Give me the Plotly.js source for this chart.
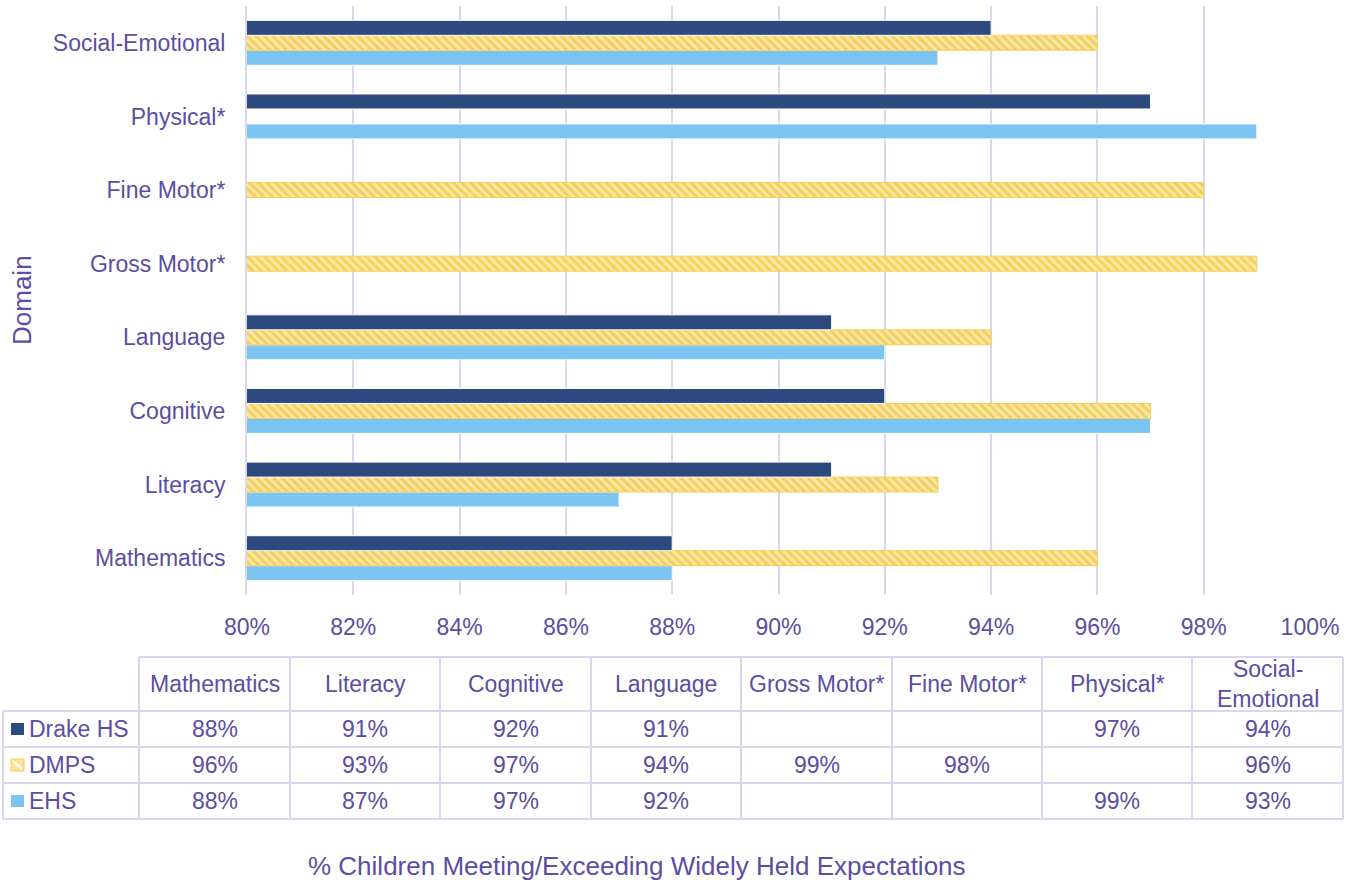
<!DOCTYPE html>
<html><head><meta charset="utf-8">
<script src="https://cdn.plot.ly/plotly-3.0.1.min.js"></script>
<style>html,body{margin:0;padding:0;background:#fff}#chart{width:1357px;height:880px}</style>
</head><body><div id="chart"></div>
<script>
// ---- data ----
const categories = ['Mathematics','Literacy','Cognitive','Language','Gross Motor*','Fine Motor*','Physical*','Social-Emotional'];
const tableHeaders = ['Mathematics','Literacy','Cognitive','Language','Gross Motor*','Fine Motor*','Physical*','Social-<br>Emotional'];
const seriesNames = ['Drake HS','DMPS','EHS'];
const drakeHS = [88,91,92,91,null,null,97,94];
const dmps    = [96,93,97,94,99,98,null,96];
const ehs     = [88,87,97,92,null,null,99,93];
const xTickVals = [80,82,84,86,88,90,92,94,96,98,100];
const xTickText = xTickVals.map(v => v + '%');

// ---- style ----
const TXT = '#5B4EA3';
const GRID = '#DAD6EC';
const C_DRAKE = '#2D4A7E';
const C_DMPS = '#F4CF58';
const C_EHS = '#7CC4F1';
const FONT = 'Liberation Sans, Arial, sans-serif';

// layout geometry (pixels)
const L = 247, R = 1310, T = 6, B = 595, W = 1357, H = 880;
const px = x => (x - L) / (R - L);
const py = y => (B - y) / (B - T);

const traces = [
  {type:'bar', orientation:'h', name:'EHS', y:categories, x:ehs,
   marker:{color:C_EHS, line:{color:'#ffffff', width:1}}, hoverinfo:'x+y'},
  {type:'bar', orientation:'h', name:'DMPS', y:categories, x:dmps,
   marker:{color:C_DMPS, line:{color:C_DMPS, width:1},
           pattern:{shape:'\\', fgcolor:'#ffffff', bgcolor:C_DMPS, size:6, solidity:0.5, fillmode:'overlay'}}, hoverinfo:'x+y'},
  {type:'bar', orientation:'h', name:'Drake HS', y:categories, x:drakeHS,
   marker:{color:C_DRAKE, line:{color:'#ffffff', width:1}}, hoverinfo:'x+y'}
];

// ---- table (shapes + annotations) ----
const colEdges = [3,139,290,440,591,741,892,1042,1192,1343];
const rowEdges = [657,711,747,783,819];
const shapes = [];
const lineStyle = {color:GRID, width:2};
shapes.push({type:'line', xref:'paper', yref:'paper', x0:px(colEdges[1]), x1:px(colEdges[9]), y0:py(rowEdges[0]), y1:py(rowEdges[0]), line:lineStyle});
for (let r = 1; r < rowEdges.length; r++) {
  shapes.push({type:'line', xref:'paper', yref:'paper', x0:px(colEdges[0]), x1:px(colEdges[9]), y0:py(rowEdges[r]), y1:py(rowEdges[r]), line:lineStyle});
}
shapes.push({type:'line', xref:'paper', yref:'paper', x0:px(colEdges[0]), x1:px(colEdges[0]), y0:py(rowEdges[1]), y1:py(rowEdges[4]), line:lineStyle});
for (let c = 1; c < colEdges.length; c++) {
  shapes.push({type:'line', xref:'paper', yref:'paper', x0:px(colEdges[c]), x1:px(colEdges[c]), y0:py(rowEdges[0]), y1:py(rowEdges[4]), line:lineStyle});
}

const annotations = [];
const tFont = {family:FONT, size:23, color:TXT};
tableHeaders.forEach((h, i) => {
  const cx = (colEdges[i+1] + colEdges[i+2]) / 2;
  annotations.push({xref:'paper', yref:'paper', x:px(cx), y:py((rowEdges[0]+rowEdges[1])/2),
    text:h, showarrow:false, xanchor:'center', yanchor:'middle', font:tFont});
});
const seriesData = [drakeHS, dmps, ehs];
const swatchColors = [C_DRAKE, C_DMPS, C_EHS];
seriesData.forEach((vals, r) => {
  const cy = (rowEdges[r+1] + rowEdges[r+2]) / 2;
  annotations.push({xref:'paper', yref:'paper', x:px(27), y:py(cy), text:seriesNames[r],
    showarrow:false, xanchor:'left', yanchor:'middle', font:tFont});
  if (r === 1) {
    shapes.push({type:'rect', xref:'paper', yref:'paper', x0:px(11), x1:px(24), y0:py(cy-6), y1:py(cy+6),
      fillcolor:'#FBE49A', line:{color:C_DMPS, width:1}});
    shapes.push({type:'line', xref:'paper', yref:'paper', x0:px(13), x1:px(22), y0:py(cy-4), y1:py(cy+4),
      line:{color:'#ffffff', width:2}});
  } else {
    shapes.push({type:'rect', xref:'paper', yref:'paper', x0:px(11), x1:px(24), y0:py(cy-6), y1:py(cy+6),
      fillcolor:swatchColors[r], line:{width:0}});
  }
  vals.forEach((v, i) => {
    if (v === null) return;
    const cx = (colEdges[i+1] + colEdges[i+2]) / 2;
    annotations.push({xref:'paper', yref:'paper', x:px(cx), y:py(cy), text:v + '%',
      showarrow:false, xanchor:'center', yanchor:'middle', font:tFont});
  });
});
// x-axis title (positioned under the table)
annotations.push({xref:'paper', yref:'paper', x:px(637), y:py(866), xanchor:'center', yanchor:'middle',
  text:'% Children Meeting/Exceeding Widely Held Expectations', showarrow:false,
  font:{family:FONT, size:26, color:TXT}});
// y-axis title
annotations.push({xref:'paper', yref:'paper', x:px(22), y:py(300), xanchor:'center', yanchor:'middle',
  text:'Domain', textangle:-90, showarrow:false,
  font:{family:FONT, size:26, color:TXT}});

const layout = {
  width:W, height:H,
  margin:{l:L, r:W-R, t:T, b:H-B, pad:0},
  paper_bgcolor:'#ffffff', plot_bgcolor:'#ffffff',
  font:{family:FONT, color:TXT, size:23},
  barmode:'group', bargap:0.39, bargroupgap:0,
  showlegend:false,
  xaxis:{range:[80,100], tickvals:xTickVals, ticktext:xTickText, showgrid:true, gridcolor:GRID, gridwidth:2,
    zeroline:false, showline:false, ticks:'', ticklabelstandoff:16,
    tickfont:{family:FONT, size:23, color:TXT}},
  yaxis:{categoryorder:'array', categoryarray:categories, showgrid:false, zeroline:false,
    showline:true, linecolor:GRID, linewidth:2, ticks:'', ticklabelstandoff:15,
    tickfont:{family:FONT, size:23, color:TXT}},
  shapes:shapes,
  annotations:annotations
};

Plotly.newPlot('chart', traces, layout, {displayModeBar:false, staticPlot:true});
</script>
</body></html>
